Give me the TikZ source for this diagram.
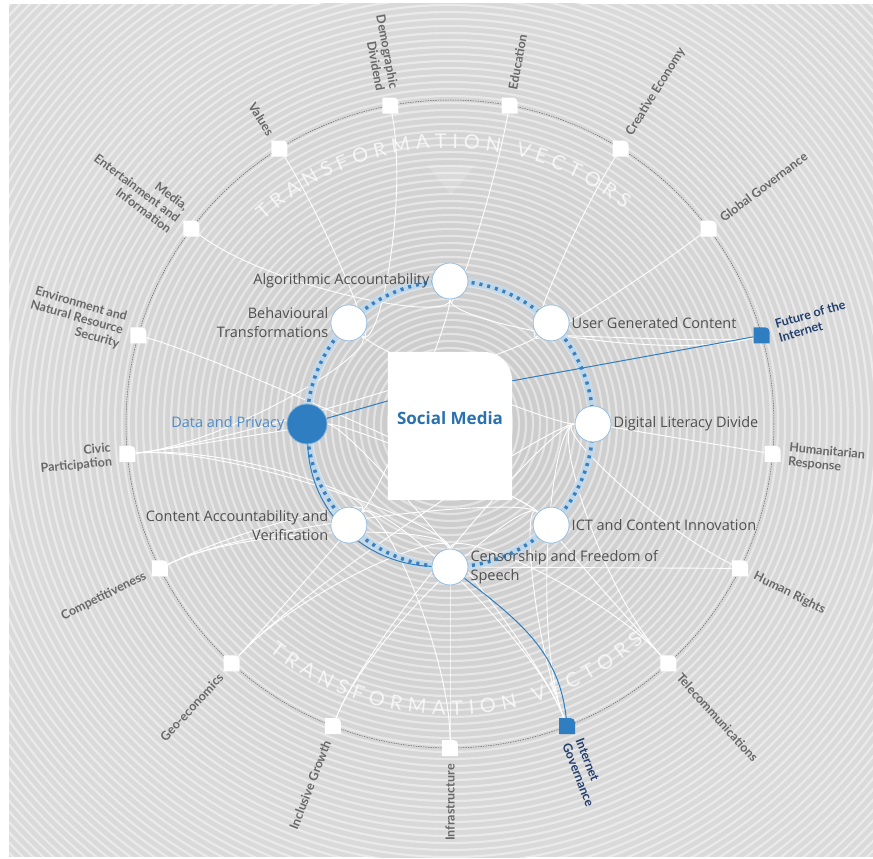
\documentclass[tikz,border=0pt]{standalone}
\usepackage{fontspec}
\setmainfont{Open Sans}
\newfontfamily\latofont{Lato}
\usetikzlibrary{calc,decorations.text}

\definecolor{bgrey}{HTML}{DADADA}
\definecolor{ringblue}{HTML}{BCD8EE}
\definecolor{dotblue}{HTML}{3A80BF}
\definecolor{hotblue}{HTML}{2F7EC1}
\definecolor{navy}{HTML}{233F6E}
\definecolor{labgrey}{HTML}{505050}
\definecolor{vecgrey}{HTML}{686868}
\definecolor{dpblue}{HTML}{4D8CC8}

\pgfdeclarelayer{back}
\pgfdeclarelayer{lines}
\pgfsetlayers{back,lines,main}

\tikzset{
  docshape/.style 2 args={path picture={\fill[#1] (path picture bounding box.south west) -- (path picture bounding box.north west) -- ([xshift=-#2]path picture bounding box.north east) arc[start angle=90, end angle=0, radius=#2] -- (path picture bounding box.south east) -- cycle;}},
  vecbox/.style={minimum size=16pt, inner sep=0pt, docshape={#1}{4.5pt}},
  vecbox/.default=white,
  veclab/.style={text=vecgrey, font=\latofont\bfseries\fontsize{12.5}{14}\selectfont, inner sep=0pt},
  topic/.style={circle, minimum size=36pt, inner sep=0pt, fill=white, draw=ringblue!70!dotblue, line width=.8pt},
  topiclab/.style={text=labgrey, font=\fontsize{14.5}{19}\selectfont, inner sep=2pt},
  link/.style={white, line width=.9pt, to path={.. controls ($(\tikztostart)!#1!(o)$) and ($(\tikztotarget)!#1!(o)$) .. (\tikztotarget)}},
  link/.default=.3,
  hot/.style={hotblue, line width=1pt},
}

\begin{document}
\begin{tikzpicture}[x=1pt, y=1pt]
\useasboundingbox (-450,-435) rectangle (423,424);
\coordinate (o) at (0,0);

% background rings
\begin{pgfonlayer}{back}
\fill[white] (-450,-435) rectangle (423,424);
\begin{scope}
\clip (-441,-433) rectangle (423,420);
\fill[bgrey] (-441,-433) rectangle (423,420);
\shade[inner color=gray!42, outer color=bgrey] (o) circle[radius=440];
\foreach \r in {6,13,...,650}
  \draw[white, opacity=.45, line width=2.2pt] (o) circle[radius=\r];
\end{scope}
\draw[black!60, line width=.5pt, dash pattern=on 1.5pt off 1pt] (o) circle[radius=324];
\fill[white, opacity=.16] (-23,259) -- (25,259) -- (1,229) -- cycle;
\begin{scope}[opacity=.75]
\path[decorate, decoration={text along path, text color=white, text align={fit to path},
  text={|\latofont\fontsize{20}{20}\selectfont|TRANSFORMATION VECTORS}}]
  (132.5:276) arc[start angle=132.5, end angle=51, radius=276];
\path[decorate, decoration={text along path, text color=white, text align={fit to path},
  text={|\latofont\fontsize{20}{20}\selectfont|TRANSFORMATION VECTORS}}]
  (-128.5:291) arc[start angle=-128.5, end angle=-48.3, radius=291];
\end{scope}
\end{pgfonlayer}

% transformation vectors
\node[vecbox] (inf) at (-90:324) {};
\node[vecbox=hotblue] (igv) at (-68.82:324) {};
\node[vecbox] (tel) at (-47.65:324) {};
\node[vecbox] (hrt) at (-26.47:324) {};
\node[vecbox] (hum) at (-5.29:324) {};
\node[vecbox=hotblue] (fut) at (15.88:324) {};
\node[vecbox] (glo) at (37.06:324) {};
\node[vecbox] (cre) at (58.24:324) {};
\node[vecbox] (edu) at (79.41:324) {};
\node[vecbox] (dem) at (100.59:324) {};
\node[vecbox] (val) at (121.76:324) {};
\node[vecbox] (med) at (142.94:324) {};
\node[vecbox] (env) at (164.12:324) {};
\node[vecbox] (civ) at (185.29:324) {};
\node[vecbox] (com) at (206.47:324) {};
\node[vecbox] (geo) at (227.65:324) {};
\node[vecbox] (inc) at (248.82:324) {};

\node[veclab, rotate=90, anchor=east] (inf-l) at (-90:340) {Infrastructure};
\node[veclab, rotate=-68.82, anchor=west, align=left, text=navy] (igv-l) at (-68.82:340) {Internet\\Governance};
\node[veclab, rotate=-47.65, anchor=west] (tel-l) at (-47.65:340) {Telecommunications};
\node[veclab, rotate=-26.47, anchor=west] (hrt-l) at (-26.47:340) {Human Rights};
\node[veclab, rotate=-5.29, anchor=west, align=left] (hum-l) at (-5.29:340) {Humanitarian\\Response};
\node[veclab, rotate=15.88, anchor=west, align=left, text=navy] (fut-l) at (15.88:340) {Future of the\\Internet};
\node[veclab, rotate=37.06, anchor=west] (glo-l) at (37.06:340) {Global Governance};
\node[veclab, rotate=58.24, anchor=west] (cre-l) at (58.24:340) {Creative Economy};
\node[veclab, rotate=79.41, anchor=west] (edu-l) at (79.41:340) {Education};
\node[veclab, rotate=-79.41, anchor=east, align=right] (dem-l) at (100.59:340) {Demographic\\Dividend};
\node[veclab, rotate=-58.24, anchor=east] (val-l) at (121.76:340) {Values};
\node[veclab, rotate=-37.06, anchor=east, align=right] (med-l) at (142.94:340) {Media,\\Entertainment and\\Information};
\node[veclab, rotate=-15.88, anchor=east, align=right] (env-l) at (164.12:340) {Environment and\\Natural Resource\\Security};
\node[veclab, rotate=5.29, anchor=east, align=right] (civ-l) at (185.29:340) {Civic\\Participation};
\node[veclab, rotate=26.47, anchor=east] (com-l) at (206.47:340) {Competitiveness};
\node[veclab, rotate=47.65, anchor=east] (geo-l) at (227.65:340) {Geo-economics};
\node[veclab, rotate=68.82, anchor=east] (inc-l) at (248.82:340) {Inclusive Growth};

% topics on the ring
\node[topic] (alg) at (90:143) {};
\node[topic] (ugc) at (45:143) {};
\node[topic] (dig) at (0:143) {};
\node[topic] (ict) at (-45:143) {};
\node[topic] (cen) at (-90:143) {};
\node[topic] (cav) at (-135:143) {};
\node[topic, fill=hotblue, draw=hotblue!60!white, minimum size=40pt] (dat) at (180:143) {};
\node[topic] (beh) at (135:143) {};

\node[topiclab, anchor=east] (alg-l) at (alg.west) {Algorithmic Accountability};
\node[topiclab, anchor=west] (ugc-l) at (ugc.east) {User Generated Content};
\node[topiclab, anchor=west] (dig-l) at (dig.east) {Digital Literacy Divide};
\node[topiclab, anchor=west] (ict-l) at (ict.east) {ICT and Content Innovation};
\node[topiclab, anchor=west, align=left] (cen-l) at (cen.east) {Censorship and Freedom of\\Speech};
\node[topiclab, anchor=east, align=right] (cav-l) at (cav.west) {Content Accountability and\\Verification};
\node[topiclab, anchor=east, text=dpblue] (dat-l) at (dat.west) {Data and Privacy};
\node[topiclab, anchor=east, align=right] (beh-l) at (beh.west) {Behavioural\\Transformations};

% centre card
\node[minimum width=124pt, minimum height=148pt, inner sep=0pt, docshape={white}{28pt}] (sm) at (0,-2) {};
\node[text=hotblue!90!black, font=\fontsize{17}{19}\selectfont\bfseries] (sm-t) at (0,6) {Social Media};

\begin{pgfonlayer}{lines}
\draw[link] (val) to (beh);
\draw[link] (dem) to (beh);
\draw[link] (med) to (alg);
\draw[link] (edu) to (alg);
\draw[link] (cre) to (ugc);
\draw[link] (glo) to (ugc);
\draw[link=.1] (fut) to (ugc);
\draw[link] (fut) to (alg);
\draw[link] (env) to (ict);
\draw[link] (civ) to (beh);
\draw[link] (civ) to (ugc);
\draw[link] (civ) to (cav);
\draw[link] (civ) to (cen);
\draw[link=.1] (civ) to (dat);
\draw[link] (com) to (cav);
\draw[link] (com) to (cen);
\draw[link] (com) to (ict);
\draw[link] (geo) to (cav);
\draw[link] (geo) to (cen);
\draw[link] (geo) to (dig);
\draw[link] (inc) to (ict);
\draw[link] (inc) to (dig);
\draw[link] (inf) to (cav);
\draw[link] (inf) to (cen);
\draw[link] (igv) to (ict);
\draw[link] (igv) to (dig);
\draw[link] (igv) to (cav);
\draw[link] (igv) to (dat);
\draw[link] (tel) to (dig);
\draw[link] (tel) to (cen);
\draw[link] (tel) to (ict);
\draw[link] (hrt) -- (cen);
\draw[link] (hrt) to (dig);
\draw[link] (hum) -- (dig);
\draw[link] (cav) to (alg);
\draw[link] (dat) to (ict);
\draw[link] (beh) to (dig);

% the ring and the highlighted links
\draw[ringblue, line width=8pt, opacity=.8] (o) circle[radius=143];
\draw[dotblue, line width=3.5pt, dash pattern=on 3pt off 5pt] (o) circle[radius=143];
\draw[hot] (dat) to[out=-88, in=178] (cen);
\draw[hot] (cen) to[out=-38, in=96] (igv);
\draw[hot] (sm.36) -- (fut);
\draw[hot] (sm.158) -- (dat);
\end{pgfonlayer}
\end{tikzpicture}
\end{document}
